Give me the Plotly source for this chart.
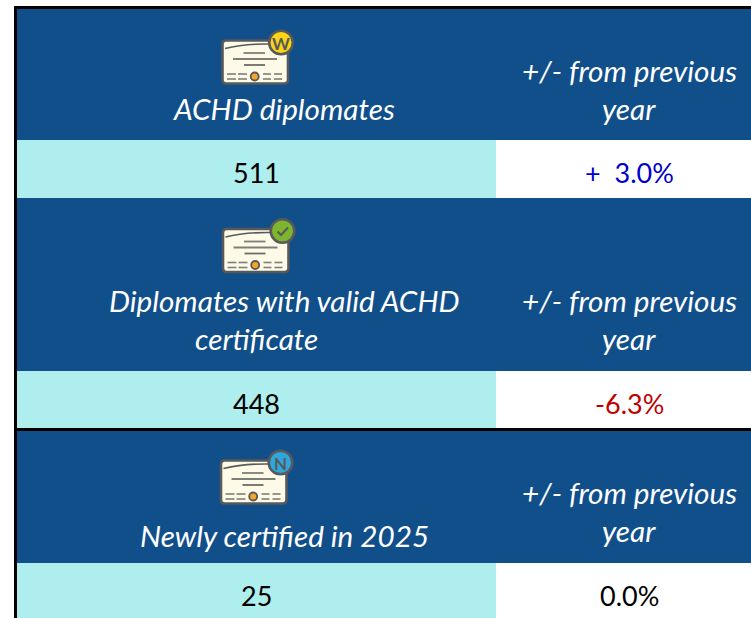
import plotly.graph_objects as go

# --- content ---
titles = [["ACHD diplomates"],
          ["Diplomates with valid ACHD", "certificate"],
          ["Newly certified in 2025"]]
values = ["511", "448", "25"]
changes = ["+  3.0%", "-6.3%", "0.0%"]
change_colors = ["#0000CC", "#C00000", "#000000"]
compare_lines = ["+/- from previous", "year"]
badge_letters = ["W", "", "N"]
badge_colors = ["#FBD515", "#7DB52F", "#2EA6DC"]

# --- layout of the table, in page pixels ---
header_tops = [9, 198, 431]
header_bots = [140, 371, 563]
row_bots = [198, 428, 618]
value_y = [172.5, 403.5, 595]
title_line_y = [[108.5], [300.5, 338.5], [535.5]]
title_line_x = [[284], [284, 256], [284]]
compare_y = [[70.5, 108.5], [300.5, 338.5], [492.5, 530.5]]
icon_dx = [0, 0.5, -1.5]
icon_dy = [0, 188.5, 420]
badge_dx = [0, 1, 1]

NAVY, AQUA, INK, PAPER = "#114F8B", "#AFEEEE", "#58595B", "#FDFBE8"
FONT = "Lato, Carlito, Calibri, sans-serif"
L, SPLIT, R = 17, 496, 751

shapes, notes = [], []


def rect(x0, y0, x1, y1, color):
    shapes.append(dict(type="rect", xref="x", yref="y", x0=x0, y0=y0, x1=x1, y1=y1,
                       fillcolor=color, line=dict(width=0), layer="below"))


def seg(x0, y0, x1, y1, dx, dy, w=1.8, color=INK):
    shapes.append(dict(type="line", xref="x", yref="y", x0=x0 + dx, y0=y0 + dy, x1=x1 + dx, y1=y1 + dy,
                       line=dict(color=color, width=w), layer="above"))


def circle(cx, cy, r, fill, w=2):
    shapes.append(dict(type="circle", xref="x", yref="y", x0=cx - r, x1=cx + r, y0=cy - r, y1=cy + r,
                       fillcolor=fill, line=dict(color=INK, width=w), layer="above"))


def note(x, y, text, size=27, color="#000000", italic=False, bold=False):
    t = text
    if bold:
        t = f"<b>{t}</b>"
    if italic:
        t = f"<i>{t}</i>"
    notes.append(dict(x=x, y=y, xref="x", yref="y", text=t, showarrow=False,
                      xanchor="center", yanchor="middle",
                      font=dict(family=FONT, size=size, color=color)))


def icon(i):
    dx, dy = icon_dx[i], icon_dy[i]
    path = (f"M {226+dx} {40.5+dy} L {284+dx} {40.5+dy} Q {288+dx} {40.5+dy} {288+dx} {44.5+dy} "
            f"L {288+dx} {79.5+dy} Q {288+dx} {83.5+dy} {284+dx} {83.5+dy} L {226+dx} {83.5+dy} "
            f"Q {222.5+dx} {83.5+dy} {222.5+dx} {79.5+dy} L {222.5+dx} {44.5+dy} Q {222.5+dx} {40.5+dy} {226+dx} {40.5+dy} Z")
    shapes.append(dict(type="path", xref="x", yref="y", path=path, fillcolor=PAPER,
                       line=dict(color=INK, width=2.6), layer="above"))
    curve = f"M {225+dx} {48.5+dy} Q {245+dx} {43.5+dy} {272+dx} {44+dy}"
    shapes.append(dict(type="path", xref="x", yref="y", path=curve,
                       line=dict(color=INK, width=1.6), layer="above"))
    seg(243.5, 53, 265, 53, dx, dy, color="#7E7E78")
    seg(233, 59, 277, 59, dx, dy, color="#7E7E78")
    seg(244, 65, 265, 65, dx, dy, color="#6C6C67")
    for yy in (74, 79):
        for a, b in ((227, 236), (238, 247), (263, 271), (274, 282)):
            seg(a, yy, b, yy, dx, dy, w=1.6, color="#7E7E78")
    circle(254.7 + dx, 76.5 + dy, 4, "#F5A52B", w=1.8)
    bx, by = 281 + dx + badge_dx[i], 42.5 + dy
    circle(bx, by, 11.8, badge_colors[i], w=2.6)
    if badge_letters[i]:
        note(bx, by + 0.5, badge_letters[i], size=17, color=INK, bold=True)
    else:
        tick = f"M {bx-5} {by+0.5} L {bx-1.5} {by+4} L {bx+5.5} {by-3.5}"
        shapes.append(dict(type="path", xref="x", yref="y", path=tick,
                           line=dict(color=INK, width=2), layer="above"))


# black frame behind everything
rect(14, 6, 751, 618, "#000000")

ITALIC = 29.7
for i in range(3):
    rect(L, header_tops[i], R, header_bots[i], NAVY)
    rect(L, header_bots[i], SPLIT, row_bots[i], AQUA)
    rect(SPLIT, header_bots[i], R, row_bots[i], "#FFFFFF")
    note(256, value_y[i], values[i])
    note(629, value_y[i], changes[i], color=change_colors[i])
    for line, x, y in zip(titles[i], title_line_x[i], title_line_y[i]):
        note(x, y, line, size=ITALIC, color="#FFFFFF", italic=True)
    for line, y in zip(compare_lines, compare_y[i]):
        note(629, y, line, size=ITALIC, color="#FFFFFF", italic=True)
    icon(i)

fig = go.Figure()
fig.update_layout(
    width=751, height=618, margin=dict(l=0, r=0, t=0, b=0),
    paper_bgcolor="#FFFFFF", plot_bgcolor="#FFFFFF", showlegend=False,
    xaxis=dict(range=[0, 751], visible=False, fixedrange=True),
    yaxis=dict(range=[618, 0], visible=False, fixedrange=True),
    shapes=shapes, annotations=notes,
)
fig.write_html("out.html", config={"displayModeBar": False},
               post_script="document.body.style.margin='0';document.body.style.overflow='hidden';")
